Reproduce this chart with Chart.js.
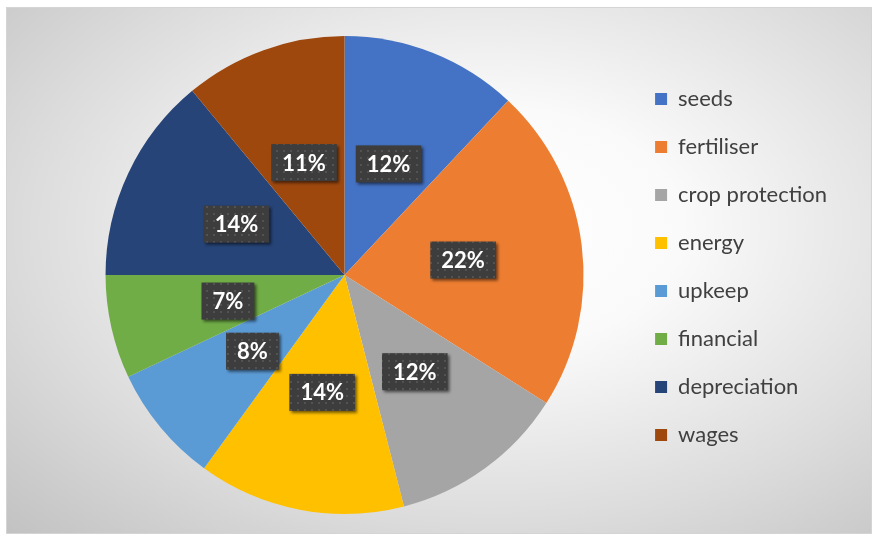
<!DOCTYPE html>
<html>
<head>
<meta charset="utf-8">
<script src="https://cdn.jsdelivr.net/npm/chart.js@4/dist/chart.umd.min.js"></script>
<style>
  html, body { margin: 0; padding: 0; background: #fff; }
  #frame {
    position: absolute; left: 6px; top: 7px; width: 864px; height: 525px;
    border: 1px solid #d4d4d4;
    background: radial-gradient(ellipse farthest-corner at 56% 42%, #ffffff 0%, #fafafa 28%, #dcdcdc 68%, #c2c2c2 100%);
  }
  #wrap { position: absolute; left: 0; top: 0; width: 877px; height: 540px; }
</style>
</head>
<body>
<div id="frame"></div>
<div id="wrap"><canvas id="costs" width="877" height="540"></canvas></div>
<script>
var categories = ['seeds', 'fertiliser', 'crop protection', 'energy', 'upkeep', 'financial', 'depreciation', 'wages'];
var shares = [12, 22, 12, 14, 8, 7, 14, 11];
var colours = ['#4472C4', '#ED7D31', '#A5A5A5', '#FFC000', '#5B9BD5', '#70AD47', '#264478', '#9E480E'];

// dotted dark fill for the value boxes
function dotPattern(ctx){
    var tile = document.createElement('canvas');
    tile.width = 7; tile.height = 7;
    var t = tile.getContext('2d');
    t.fillStyle = '#3d3d3d';
    t.fillRect(0, 0, 7, 7);
    t.fillStyle = '#525252';
    t.fillRect(3, 3, 2, 2);
    return ctx.createPattern(tile, 'repeat');
}

var valueBoxes = {
    id: 'valueBoxes',
    afterDatasetsDraw: function(chart){
        var ctx = chart.ctx;
        var pattern = dotPattern(ctx);
        var arcs = chart.getDatasetMeta(0).data;
        ctx.save();
        ctx.font = 'bold 22px Lato, "DejaVu Sans", sans-serif';
        ctx.textAlign = 'center';
        ctx.textBaseline = 'middle';
        arcs.forEach(function(arc, i){
            var p = arc.tooltipPosition();
            var text = shares[i] + '%';
            var w = ctx.measureText(text).width + 22;
            var h = 37;
            ctx.save();
            ctx.shadowColor = 'rgba(0,0,0,0.55)';
            ctx.shadowBlur = 3;
            ctx.shadowOffsetX = 2;
            ctx.shadowOffsetY = 2;
            ctx.fillStyle = pattern;
            ctx.fillRect(p.x - w / 2, p.y - h / 2, w, h);
            ctx.restore();
            ctx.fillStyle = '#ffffff';
            ctx.fillText(text, p.x, p.y + 1);
        });
        ctx.restore();
    }
};

// lift the legend column a little above the pie's centre line
var legendLift = {
    id: 'legendLift',
    afterLayout: function(chart){
        chart.legend.top -= 8;
        chart.legend.bottom -= 8;
    }
};

var ctx = document.getElementById('costs').getContext('2d');
var myChart = new Chart(ctx, {
    type: 'pie',
    data: {
        labels: categories,
        datasets: [{
            data: shares,
            backgroundColor: colours,
            borderWidth: 0
        }]
    },
    options: {
        responsive: false,
        animation: false,
        layout: { padding: { left: 60, right: 40, top: 36, bottom: 26 } },
        plugins: {
            legend: {
                position: 'right',
                align: 'center',
                labels: {
                    boxWidth: 12,
                    boxHeight: 12,
                    padding: 26,
                    color: '#404040',
                    font: { family: 'Lato, "DejaVu Sans", sans-serif', size: 22 }
                }
            },
            tooltip: { enabled: false }
        }
    },
    plugins: [valueBoxes, legendLift]
});
</script>
</body>
</html>
